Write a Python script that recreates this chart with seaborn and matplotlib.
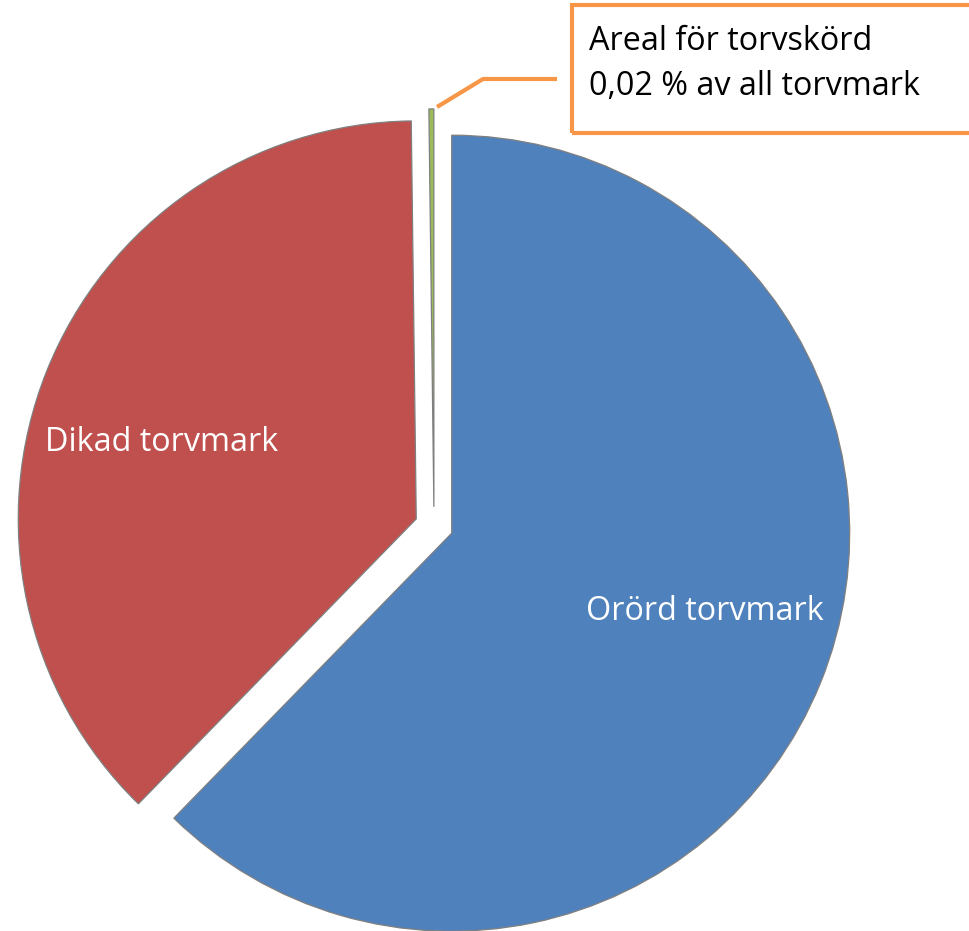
import matplotlib.pyplot as plt
import seaborn as sns

# Torvmark i Sverige - fördelning av areal
CATEGORIES = ["Orörd torvmark", "Dikad torvmark", "Areal för torvskörd"]
SHARES = [62.3, 37.5, 0.2]
COLORS = ["#4F81BD", "#C0504D", "#9BBB59"]
CALLOUT_TEXT = ["Areal för torvskörd", "0,02 % av all torvmark"]

ORANGE = "#F79646"
W, H = 969, 931

sns.set_theme(style="white")
plt.rcParams["font.family"] = ["Open Sans", "DejaVu Sans"]


def fig_xy(px, py):
    # pixelposition (från övre vänstra hörnet) -> figurkoordinater
    return px / W, 1 - py / H


fig = plt.figure(figsize=(W / 100, H / 100), dpi=100)
cx, cy, r = 434, 526, 398
ax = fig.add_axes([(cx - r) / W, (H - cy - r) / H, 2 * r / W, 2 * r / H])

wedges, _ = ax.pie(
    SHARES,
    colors=sns.color_palette(COLORS),
    startangle=90,
    counterclock=False,
    explode=[0.048] * len(SHARES),
    wedgeprops=dict(edgecolor="#7F7F7F", linewidth=0.9),
)
for w in wedges:
    w.set_clip_on(False)
ax.set_xlim(-1, 1)
ax.set_ylim(-1, 1)
ax.set_aspect("equal")
ax.axis("off")

# etiketter inne i tårtbitarna
ax.text(0.383, -0.215, CATEGORIES[0], color="white", fontsize=23.3,
        ha="left", va="center")
ax.text(-0.978, 0.21, CATEGORIES[1], color="white", fontsize=23.3,
        ha="left", va="center")

# pratbubbla för den lilla biten
box = plt.Rectangle(fig_xy(572, 133), (980 - 572) / W, 128 / H,
                    transform=fig.transFigure, fill=False,
                    edgecolor=ORANGE, linewidth=3, clip_on=False)
fig.patches.append(box)
pts = [fig_xy(437, 107), fig_xy(483, 79), fig_xy(557, 79)]
fig.add_artist(plt.Line2D([p[0] for p in pts], [p[1] for p in pts],
                          transform=fig.transFigure, color=ORANGE,
                          linewidth=3, solid_capstyle="butt"))
for line, base in zip(CALLOUT_TEXT, [50, 95]):
    x, y = fig_xy(589, base)
    fig.text(x, y, line, color="black", fontsize=23.3, ha="left", va="baseline")

fig.savefig("out.png", dpi=100, facecolor="white")
